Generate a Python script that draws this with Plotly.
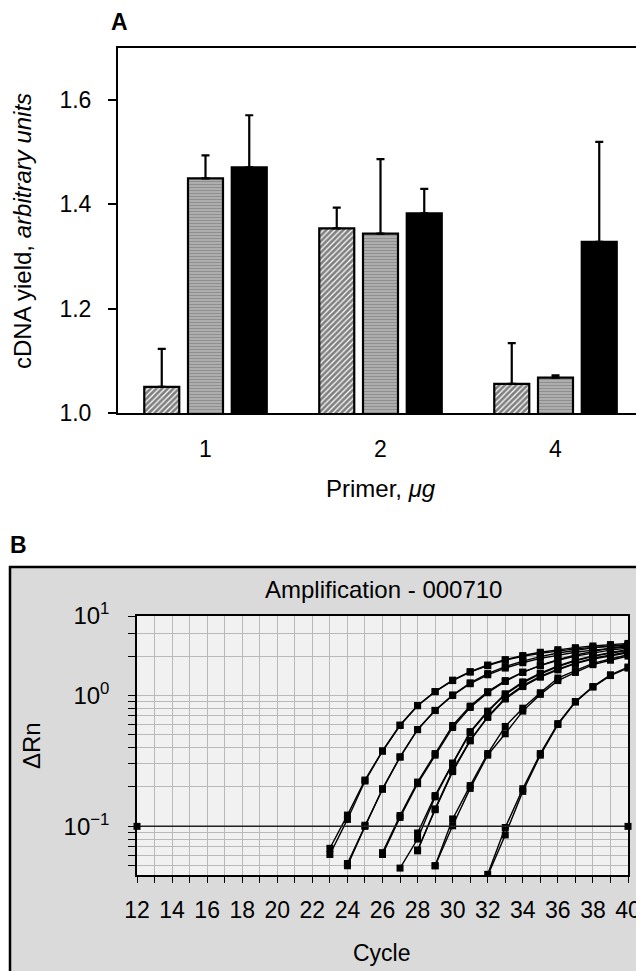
import math
import plotly.graph_objects as go

# The page body adds an 8 px margin, so the figure is 8 px smaller and all
# reference pixel positions are shifted by 8 px.
OFF = 8
W, H = 644 - OFF, 971 - OFF
FONT = "Liberation Sans, Arial, Helvetica, sans-serif"

# ---------------- Panel A data ----------------
primer_categories = ["1", "2", "4"]
hatched_values = [1.050, 1.354, 1.056]
hatched_err = [0.073, 0.040, 0.078]
lined_values = [1.450, 1.344, 1.068]
lined_err = [0.044, 0.143, 0.004]
black_values = [1.471, 1.383, 1.328]
black_err = [0.100, 0.047, 0.192]
a_yticks = [1.0, 1.2, 1.4, 1.6]
a_yticklabels = ["1.0", "1.2", "1.4", "1.6"]

# ---------------- Panel B data ----------------
cycle_ticks = list(range(12, 41))
cycle_ticklabels = [str(c) if c % 2 == 0 else "" for c in cycle_ticks]
rn_ticks = [0.05, 0.06, 0.07, 0.08, 0.09, 0.1, 0.2, 0.3, 0.4, 0.5, 0.6, 0.7, 0.8, 0.9,
            1.0, 2.0, 3.0, 4.05]
rn_ticklabels = ["", "", "", "", "", "10<sup>\u22121</sup>", "", "", "", "", "", "", "", "",
                 "10<sup>0</sup>", "", "", "10<sup>1</sup>"]

threshold_cycles = [12, 40]
threshold_value = 0.1

curve_start_cycles = [23, 23, 24, 24, 26, 26, 27, 28, 28, 28, 29, 29, 32, 32]
curve_g1a = [0.068, 0.122, 0.226, 0.378, 0.595, 0.838, 1.07, 1.30, 1.51, 1.69, 1.86, 1.99, 2.10, 2.19, 2.27, 2.33, 2.38, 2.42]
curve_g1b = [0.061, 0.113, 0.222, 0.375, 0.590, 0.835, 1.07, 1.31, 1.52, 1.71, 1.88, 2.02, 2.14, 2.24, 2.32, 2.39, 2.45, 2.50]
curve_g2a = [0.052, 0.102, 0.194, 0.340, 0.550, 0.767, 1.00, 1.23, 1.44, 1.62, 1.78, 1.92, 2.04, 2.14, 2.22, 2.29, 2.35]
curve_g2b = [0.050, 0.100, 0.192, 0.338, 0.548, 0.770, 1.01, 1.25, 1.47, 1.66, 1.83, 1.98, 2.11, 2.22, 2.31, 2.39, 2.46]
curve_g3a = [0.063, 0.121, 0.218, 0.360, 0.590, 0.830, 1.07, 1.30, 1.51, 1.69, 1.86, 2.00, 2.12, 2.22, 2.30]
curve_g3b = [0.061, 0.117, 0.212, 0.350, 0.570, 0.810, 1.05, 1.28, 1.50, 1.70, 1.88, 2.04, 2.18, 2.30, 2.40]
curve_g4a = [0.048, 0.080, 0.168, 0.300, 0.520, 0.750, 1.02, 1.25, 1.46, 1.66, 1.84, 1.99, 2.11, 2.21]
curve_g4b = [0.089, 0.172, 0.305, 0.530, 0.760, 1.03, 1.27, 1.48, 1.68, 1.86, 2.01, 2.14, 2.25]
curve_g5a = [0.065, 0.136, 0.268, 0.456, 0.690, 0.955, 1.19, 1.40, 1.59, 1.77, 1.93, 2.05, 2.15]
curve_g5b = [0.066, 0.134, 0.262, 0.450, 0.680, 0.940, 1.17, 1.38, 1.57, 1.75, 1.90, 2.02, 2.12]
curve_g6a = [0.050, 0.114, 0.205, 0.360, 0.580, 0.800, 1.05, 1.36, 1.55, 1.76, 1.90, 2.05]
curve_g6b = [0.050, 0.101, 0.195, 0.350, 0.510, 0.760, 1.02, 1.30, 1.50, 1.72, 1.86, 2.00]
curve_g7a = [0.043, 0.098, 0.194, 0.360, 0.610, 0.900, 1.17, 1.44, 1.65]
curve_g7b = [0.042, 0.086, 0.185, 0.350, 0.600, 0.890, 1.16, 1.42, 1.62]
curves = [curve_g1a, curve_g1b, curve_g2a, curve_g2b, curve_g3a, curve_g3b, curve_g4a,
          curve_g4b, curve_g5a, curve_g5b, curve_g6a, curve_g6b, curve_g7a, curve_g7b]


def px_x(p):
    return (p - OFF) / W


def px_y(p):
    return 1 - (p - OFF) / H


fig = go.Figure()

# ---- Panel A bars ----
zeros = [0, 0, 0]
err_style = dict(type="data", symmetric=False, color="black", thickness=2.2, width=4)
fig.add_trace(go.Bar(
    x=primer_categories, y=hatched_values, xaxis="x", yaxis="y",
    marker=dict(color="white", line=dict(color="black", width=2.2),
                pattern=dict(shape="/", fgcolor="black", bgcolor="white", size=4, solidity=0.7)),
    error_y=dict(array=hatched_err, arrayminus=zeros, **err_style),
))
fig.add_trace(go.Bar(
    x=primer_categories, y=lined_values, xaxis="x", yaxis="y",
    marker=dict(color="white", line=dict(color="black", width=2.2),
                pattern=dict(shape="-", fgcolor="#2a2a2a", bgcolor="#f4f4f4", size=3, solidity=0.8)),
    error_y=dict(array=lined_err, arrayminus=zeros, **err_style),
))
fig.add_trace(go.Bar(
    x=primer_categories, y=black_values, xaxis="x", yaxis="y",
    marker=dict(color="black", line=dict(color="black", width=2.2)),
    error_y=dict(array=black_err, arrayminus=zeros, **err_style),
))

# ---- Panel B curves ----
for start, vals in zip(curve_start_cycles, curves):
    xs = list(range(start, start + len(vals)))
    fig.add_trace(go.Scatter(
        x=xs, y=vals, xaxis="x2", yaxis="y2", mode="lines+markers",
        line=dict(color="black", width=1.4),
        marker=dict(symbol="square", size=7, color="black"),
    ))

fig.add_trace(go.Scatter(
    x=threshold_cycles, y=[threshold_value] * len(threshold_cycles), xaxis="x2", yaxis="y2",
    mode="lines+markers", line=dict(color="#222", width=1.5),
    marker=dict(symbol="square", size=7, color="black"), cliponaxis=False,
))

# domains (reference pixel positions)
a_x = [px_x(118), px_x(643)]
a_y = [px_y(413), px_y(48)]
b_x = [px_x(137), px_x(628)]
b_y = [px_y(875), px_y(616)]

fig.update_layout(
    width=W, height=H,
    margin=dict(l=0, r=0, t=0, b=0),
    paper_bgcolor="white",
    plot_bgcolor="rgba(0,0,0,0)",
    showlegend=False,
    barmode="group", bargap=0.25, bargroupgap=0.2,
    font=dict(family=FONT, size=22, color="black"),
    xaxis=dict(domain=a_x, anchor="y", type="category", range=[-0.5, 2.5],
               showline=True, mirror=True, linecolor="black", linewidth=2,
               ticks="", showgrid=False, zeroline=False, automargin=False,
               tickfont=dict(size=23), ticklabelstandoff=14),
    yaxis=dict(domain=a_y, anchor="x", range=[1.0, 1.7],
               tickvals=a_yticks, ticktext=a_yticklabels,
               showline=True, mirror=True, linecolor="black", linewidth=2,
               ticks="outside", ticklen=8, tickwidth=1.5, tickcolor="black",
               showgrid=False, zeroline=False, automargin=False,
               tickfont=dict(size=23), ticklabelstandoff=12),
    xaxis2=dict(domain=b_x, anchor="y2", range=[12, 40],
                tickvals=cycle_ticks, ticktext=cycle_ticklabels,
                showline=True, mirror=True, linecolor="black", linewidth=1.5,
                ticks="outside", ticklen=6, tickwidth=1.2, tickcolor="black",
                showgrid=True, gridcolor="#b9b9b9", gridwidth=1,
                zeroline=False, automargin=False,
                tickfont=dict(size=23), ticklabelstandoff=8),
    yaxis2=dict(domain=b_y, anchor="x2", type="log",
                range=[math.log10(0.0425), math.log10(4.05)],
                tickvals=rn_ticks, ticktext=rn_ticklabels,
                showline=True, mirror=True, linecolor="black", linewidth=1.5,
                ticks="outside", ticklen=7, tickwidth=1.2, tickcolor="black",
                showgrid=True, gridcolor="#b9b9b9", gridwidth=1,
                zeroline=False, automargin=False,
                tickfont=dict(size=24), ticklabelstandoff=14),
    shapes=[
        dict(type="rect", xref="paper", yref="paper", layer="below",
             x0=px_x(10), x1=px_x(641), y0=px_y(985), y1=px_y(567),
             fillcolor="#dadada", line=dict(color="black", width=2.5)),
        dict(type="rect", xref="paper", yref="paper", layer="below",
             x0=b_x[0], x1=b_x[1], y0=b_y[0], y1=b_y[1],
             fillcolor="#f1f1f1", line=dict(width=0)),
    ],
    annotations=[
        dict(text="<b>A</b>", xref="paper", yref="paper", x=px_x(109), y=px_y(22),
             xanchor="left", yanchor="middle", showarrow=False, font=dict(size=23)),
        dict(text="cDNA yield, <i>arbitrary units</i>", xref="paper", yref="paper",
             x=px_x(22), y=px_y(231), textangle=-90, xanchor="center", yanchor="middle",
             showarrow=False, font=dict(size=24)),
        dict(text="Primer, <i>\u03bcg</i>", xref="paper", yref="paper",
             x=px_x(381), y=px_y(488), xanchor="center", yanchor="middle",
             showarrow=False, font=dict(size=24)),
        dict(text="<b>B</b>", xref="paper", yref="paper", x=px_x(8), y=px_y(545),
             xanchor="left", yanchor="middle", showarrow=False, font=dict(size=23)),
        dict(text="Amplification - 000710", xref="paper", yref="paper",
             x=px_x(383), y=px_y(589), xanchor="center", yanchor="middle",
             showarrow=False, font=dict(size=24)),
        dict(text="\u0394Rn", xref="paper", yref="paper",
             x=px_x(31), y=px_y(746), textangle=-90, xanchor="center", yanchor="middle",
             showarrow=False, font=dict(size=24)),
        dict(text="Cycle", xref="paper", yref="paper",
             x=px_x(382), y=px_y(953), xanchor="center", yanchor="middle",
             showarrow=False, font=dict(size=23)),
    ],
)

fig.write_html("out.html")
